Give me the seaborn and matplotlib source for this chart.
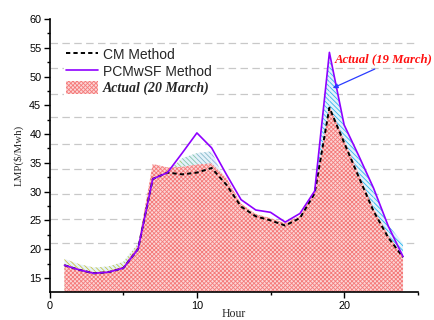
import matplotlib
matplotlib.use("Agg")
import matplotlib.pyplot as plt
import numpy as np
import pandas as pd
import seaborn as sns
from matplotlib.colors import LinearSegmentedColormap
from matplotlib.lines import Line2D
from matplotlib.patches import Patch

# Hourly locational marginal prices ($/MWh)
hours = list(range(1, 25))
cm_method = [17.2, 16.4, 15.8, 16.0, 16.7, 20.0, 32.2, 33.3, 33.0, 33.3, 34.1, 31.2,
             27.4, 25.7, 25.0, 24.1, 25.4, 29.7, 44.6, 38.5, 32.5, 26.6, 22.0, 18.6]
pcmwsf_method = [17.2, 16.4, 15.8, 16.0, 16.7, 20.0, 32.2, 33.3, 36.7, 40.2, 37.6, 33.0,
                 28.6, 26.8, 26.4, 24.7, 26.2, 30.1, 54.2, 41.6, 36.2, 30.6, 24.0, 18.7]
actual_20_march = [17.3, 16.6, 16.0, 16.2, 17.0, 20.6, 34.8, 34.2, 34.3, 34.7, 34.9, 32.4,
                   27.9, 26.1, 25.4, 24.5, 25.8, 30.0, 44.8, 39.0, 33.0, 27.0, 22.4, 18.7]
actual_19_march = [18.3, 17.4, 16.8, 17.0, 17.8, 21.0, 32.5, 33.5, 35.8, 36.7, 37.0, 31.5,
                   27.0, 25.5, 25.0, 24.0, 25.5, 29.5, 54.0, 41.5, 36.0, 30.5, 24.2, 21.0]
reference_levels = [21.06, 25.29, 29.5, 34.0, 38.34, 42.96, 46.95, 51.46, 55.79]

sns.set_theme(style="ticks")
plt.rcParams["font.family"] = ["Liberation Sans", "DejaVu Sans"]
plt.rcParams["hatch.linewidth"] = 0.6

serif = ["Liberation Serif", "DejaVu Serif"]
y_floor = 12.5

fig = plt.figure(figsize=(4.34, 3.2), dpi=100)
ax = fig.add_axes([0.1145, 0.0866, 0.848, 0.854])

# dashed reference levels behind everything
for lvl in reference_levels:
    ax.axhline(lvl, color="#c8c8c8", lw=0.9, ls=(0, (6, 3.5)), zorder=0.5)

# 19 March actual: striped area whose stripe colour drifts along the day
stripe_cmap = LinearSegmentedColormap.from_list(
    "march19",
    [(0.0, "#d2c23c"), (0.28, "#a8cc5a"), (0.36, "#7cc4b4"), (0.45, "#98a6f0"),
     (0.55, "#40b4f0"), (1.0, "#22b8f0")])
for i in range(len(hours) - 1):
    colour = stripe_cmap((hours[i] - 1) / (len(hours) - 1))
    ax.fill_between(hours[i:i + 2], y_floor, actual_19_march[i:i + 2],
                    facecolor="#e4f2fa", edgecolor=colour, hatch="\\\\\\\\\\\\\\",
                    linewidth=0, zorder=1)

# 20 March actual: pink checkered area
red_face, red_hatch = "#fcd6d6", "#f47a7a"
ax.fill_between(hours, y_floor, actual_20_march, facecolor=red_face,
                edgecolor=red_hatch, hatch="xxxxxxxx", linewidth=0, zorder=2)

df = pd.DataFrame({"Hour": hours, "CM": cm_method, "PCMwSF": pcmwsf_method})
cm_dash = (0, (2.2, 1.6))
purple = "#8f00ff"
sns.lineplot(data=df, x="Hour", y="CM", ax=ax, color="black", linestyle=cm_dash,
             linewidth=1.4, zorder=3)
sns.lineplot(data=df, x="Hour", y="PCMwSF", ax=ax, color=purple, linewidth=1.2,
             zorder=4)

# axes
ax.set_xlim(0, 25)
ax.set_ylim(y_floor, 60)
ax.set_xticks([0, 10, 20])
ax.set_xticks([5, 15, 25], minor=True)
ax.set_yticks(np.arange(15, 61, 5))
ax.set_yticks(np.arange(15, 60, 2.5), minor=True)
ax.tick_params(which="both", direction="out", width=1.0, colors="black",
               labelsize=7.8, pad=2)
ax.tick_params(which="major", length=4)
ax.tick_params(which="minor", length=2.5)
sns.despine(ax=ax)
for side in ("left", "bottom"):
    ax.spines[side].set_linewidth(1.2)
    ax.spines[side].set_color("black")
ax.set_ylabel("LMP($/Mwh)", family=serif, fontsize=7.8, labelpad=4)
ax.set_xlabel("Hour", family=serif, fontsize=8.5, labelpad=-2)

# legend
handles = [
    Line2D([], [], color="black", ls=cm_dash, lw=1.4),
    Line2D([], [], color=purple, lw=1.2),
    Patch(facecolor=red_face, edgecolor=red_hatch, hatch="xxxxxxxx", linewidth=0),
]
leg = ax.legend(handles=handles,
                labels=["CM Method", "PCMwSF Method", "Actual (20 March)"],
                loc="upper left", bbox_to_anchor=(0.04, 0.90), frameon=True,
                fancybox=False, framealpha=1, facecolor="white", edgecolor="none",
                fontsize=10, handlelength=2.3, handleheight=1.05,
                handletextpad=0.35, labelspacing=0.18, borderpad=0.1,
                borderaxespad=0)
leg.set_zorder(5)
last = leg.get_texts()[2]
last.set_fontfamily(serif)
last.set_fontstyle("italic")
last.set_fontweight("bold")

# callout for the 19 March area
ax.annotate("", xy=(19.23, 48.0), xytext=(22.08, 51.3),
            arrowprops=dict(arrowstyle="-|>", color="#2a3cff", lw=0.9,
                            mutation_scale=7, shrinkA=0, shrinkB=0), zorder=6)
ax.text(19.37, 52.95, "Actual (19 March)", color="#ff1010", family=serif,
        style="italic", weight="bold", fontsize=9.2, va="center", ha="left",
        clip_on=False, zorder=6)

fig.savefig("out.png", dpi=100)
